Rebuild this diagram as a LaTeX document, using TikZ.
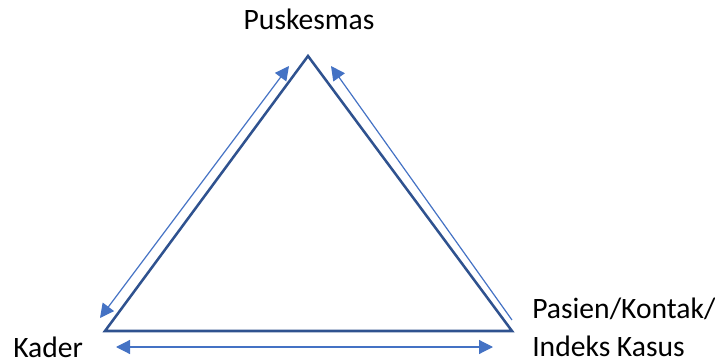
\documentclass[tikz,border=0pt]{standalone}
\usepackage{fontspec}
\setmainfont{Carlito}
\usetikzlibrary{arrows.meta,positioning}
\definecolor{EdgeBlue}{RGB}{47,82,143}
\definecolor{FlowBlue}{RGB}{68,114,196}
\tikzset{
  actor/.style={font=\fontsize{22.2}{28.5}\selectfont,inner sep=0pt,align=left},
  triedge/.style={draw=EdgeBlue,line width=1.9pt,line join=miter},
  flow/.style={-{Triangle[length=10.5pt,width=10.5pt]},draw=FlowBlue,line width=0.9pt},
  flowbi/.style={{Triangle[length=10.5pt,width=10.5pt]}-{Triangle[length=10.5pt,width=10.5pt]},draw=FlowBlue,line width=0.9pt}
}
\begin{document}
\begin{tikzpicture}[x=0.75pt,y=-0.75pt]
\useasboundingbox (0,0) rectangle (715,360);
% corners of the triangle
\coordinate (top) at (308,56);
\coordinate (left) at (105,331);
\coordinate (right) at (512,331);
\draw[triedge] (top) -- (left) -- (right) -- cycle;
% labels
\node[actor,anchor=base] (puskesmas) at (309,30) {Puskesmas};
\node[actor,anchor=base west] (kader) at (13,357) {Kader};
\node[actor,anchor=base west] (pasien) at (532,356) {Pasien/Kontak/\\Indeks Kasus};
% arrow ends
\coordinate (kaderlow) at (100,318);
\coordinate (kaderup) at (289,66);
\coordinate (pasienlow) at (512,320);
\coordinate (pasienup) at (331,66);
\coordinate (basel) at (116,347);
\coordinate (baser) at (493,347);
\draw[flowbi] (kaderlow) -- (kaderup);
\draw[flow] (pasienlow) -- (pasienup);
\draw[flowbi] (basel) -- (baser);
\end{tikzpicture}
\end{document}
